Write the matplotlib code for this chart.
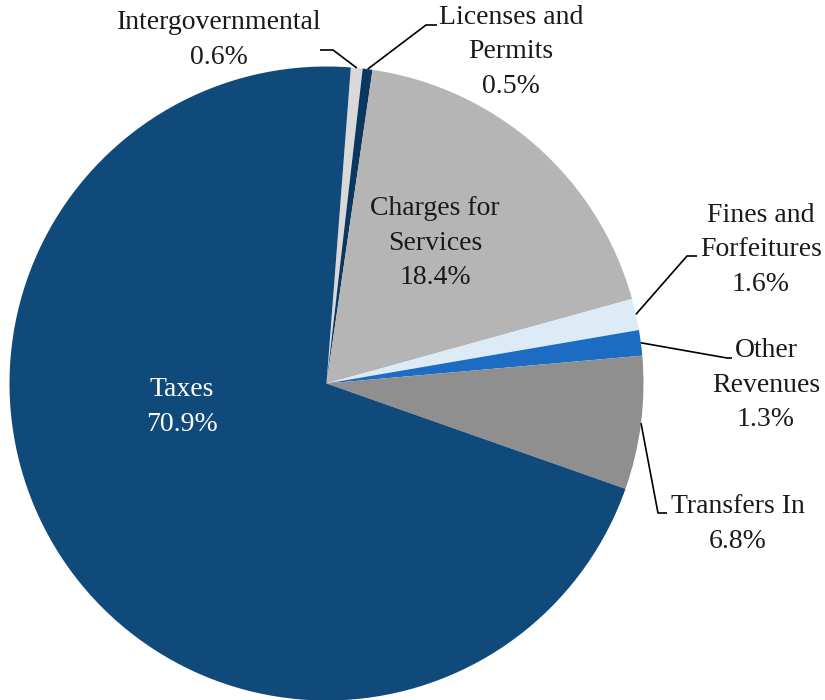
import matplotlib
matplotlib.use('Agg')
import matplotlib.pyplot as plt
import numpy as np

# ─── Data ───
categories = ['Intergovernmental', 'Licenses and\nPermits', 'Charges for\nServices',
              'Fines and\nForfeitures', 'Other\nRevenues', 'Transfers In', 'Taxes']
shares = [0.6, 0.5, 18.4, 1.6, 1.3, 6.8, 70.9]

colors = ['#D9D9D9', '#0C375E', '#B5B5B5', '#DDEBF7', '#1C6CC3', '#8F8F8F', '#104A7B']

# ─── Layout (pixel coords, y measured from top of image) ───
W, H = 825, 700
CX, CY, R = 326.5, 383.5, 317
START = 85.6

# label centre, elbow point, end of horizontal leader (None = label inside)
label_pos = {
    'Intergovernmental':       ((219, 40),  (333, 50),  (320, 50)),
    'Licenses and\nPermits':   ((511, 52),  (426, 25),  (437, 25)),
    'Charges for\nServices':   ((435, 243), None, None),
    'Fines and\nForfeitures':  ((761, 250), (687, 256), (697, 256)),
    'Other\nRevenues':         ((766, 385), (727, 358), (732, 358)),
    'Transfers In':            ((738, 524), (658, 513), (667, 513)),
    'Taxes':                   ((182, 407), None, None),
}

fig = plt.figure(figsize=(W / 100, H / 100), dpi=100)
fig.patch.set_facecolor('white')
ax = fig.add_axes([0, 0, 1, 1])

wedges, _ = ax.pie(shares, colors=colors, startangle=START, counterclock=False,
                   center=(CX, H - CY), radius=R, frame=True,
                   wedgeprops=dict(linewidth=0))
ax.set_xlim(0, W)
ax.set_ylim(0, H)
ax.set_aspect('equal')
ax.axis('off')

FONT = ['Liberation Serif', 'DejaVu Serif']
for w, cat, val in zip(wedges, categories, shares):
    (lx, ly), elbow, end = label_pos[cat]
    txt = f'{cat}\n{val:.1f}%'
    col = 'white' if cat == 'Taxes' else '#1A1A1A'
    ax.text(lx, H - ly, txt, ha='center', va='center', fontsize=20,
            family=FONT, color=col, linespacing=1.48)
    if elbow is not None:
        mid = np.deg2rad((w.theta1 + w.theta2) / 2)
        px = CX + R * np.cos(mid)
        py = H - CY + R * np.sin(mid)
        ax.plot([px, elbow[0], end[0]], [py, H - elbow[1], H - end[1]],
                color='black', linewidth=1.2, solid_capstyle='butt')

fig.savefig('out.png', dpi=100, facecolor='white')
